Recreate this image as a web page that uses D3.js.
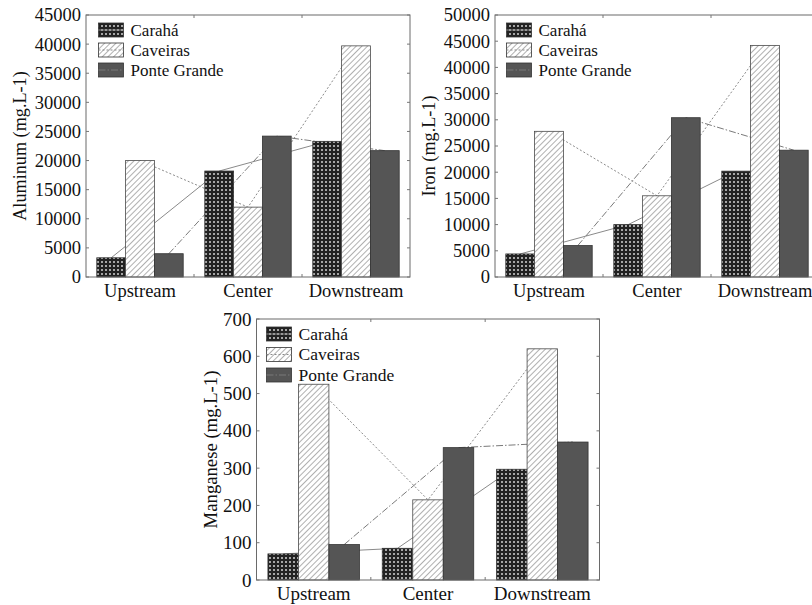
<!DOCTYPE html>
<html>
<head>
<meta charset="utf-8">
<script src="https://cdn.jsdelivr.net/npm/d3@7"></script>
<style>
  html, body { margin: 0; padding: 0; background: #fff; }
  svg { display: block; }
  text { font-family: "Liberation Serif", "Times New Roman", serif; fill: #111; }
</style>
</head>
<body>
<svg id="chart" width="812" height="605"></svg>
<script>
const categories = ["Upstream", "Center", "Downstream"];
const seriesNames = ["Carahá", "Caveiras", "Ponte Grande"];

const aluminumCaraha = [3300, 18200, 23300];
const aluminumCaveiras = [20000, 12000, 39700];
const aluminumPonte = [4000, 24200, 21700];

const ironCaraha = [4400, 10000, 20200];
const ironCaveiras = [27800, 15500, 44200];
const ironPonte = [6000, 30400, 24200];

const manganeseCaraha = [70, 85, 297];
const manganeseCaveiras = [525, 215, 620];
const manganesePonte = [95, 355, 370];

const aluminumTicks = [0, 5000, 10000, 15000, 20000, 25000, 30000, 35000, 40000, 45000];
const ironTicks = [0, 5000, 10000, 15000, 20000, 25000, 30000, 35000, 40000, 45000, 50000];
const manganeseTicks = [0, 100, 200, 300, 400, 500, 600, 700];

const svg = d3.select("#chart");
const defs = svg.append("defs");

const dots = defs.append("pattern").attr("id", "dots")
  .attr("width", 4).attr("height", 4).attr("patternUnits", "userSpaceOnUse");
dots.append("rect").attr("width", 4).attr("height", 4).attr("fill", "#222");
dots.append("rect").attr("x", 1).attr("y", 1).attr("width", 2).attr("height", 2).attr("fill", "#a6a6a6");

const hatch = defs.append("pattern").attr("id", "hatch")
  .attr("width", 4).attr("height", 4).attr("patternUnits", "userSpaceOnUse")
  .attr("patternTransform", "rotate(45)");
hatch.append("rect").attr("width", 4).attr("height", 4).attr("fill", "#fff");
hatch.append("line").attr("x1", 0).attr("y1", 0).attr("x2", 0).attr("y2", 4)
  .attr("stroke", "#6e6e6e").attr("stroke-width", 1.1);

const fills = ["url(#dots)", "url(#hatch)", "#555555"];
const lineStyles = [
  { dash: null, color: "#8a8a8a" },
  { dash: "2,2", color: "#8a8a8a" },
  { dash: "7,2,1.5,2", color: "#7a7a7a" }
];

function drawChart(cfg) {
  const g = svg.append("g");
  const x = d3.scaleBand().domain(categories).range([cfg.left, cfg.right])
    .paddingInner(0.2).paddingOuter(0.1);
  const xs = d3.scaleBand().domain(seriesNames).range([0, x.bandwidth()]);
  const y = d3.scaleLinear().domain([0, cfg.max]).range([cfg.bottom, cfg.top]);
  const series = [cfg.caraha, cfg.caveiras, cfg.ponte];

  // connecting lines (behind bars)
  series.forEach((vals, si) => {
    const line = d3.line()
      .x((d, i) => x(categories[i]) + xs(seriesNames[si]) + xs.bandwidth() / 2)
      .y(d => y(d));
    g.append("path").datum(vals)
      .attr("d", line)
      .attr("fill", "none")
      .attr("stroke", lineStyles[si].color)
      .attr("stroke-width", 1)
      .attr("stroke-dasharray", lineStyles[si].dash);
  });

  // bars
  categories.forEach((c, ci) => {
    series.forEach((vals, si) => {
      g.append("rect")
        .attr("x", x(c) + xs(seriesNames[si]))
        .attr("y", y(vals[ci]))
        .attr("width", xs.bandwidth())
        .attr("height", y(0) - y(vals[ci]))
        .attr("fill", fills[si])
        .attr("stroke", si === 1 ? "#4a4a4a" : "#333")
        .attr("stroke-width", 0.8);
    });
  });

  // frame
  g.append("rect")
    .attr("x", cfg.left).attr("y", cfg.top)
    .attr("width", cfg.right - cfg.left).attr("height", cfg.bottom - cfg.top)
    .attr("fill", "none").attr("stroke", "#6a6a6a").attr("stroke-width", 1);

  // inner ticks on y (left & right)
  cfg.ticks.forEach(t => {
    g.append("line").attr("x1", cfg.left).attr("x2", cfg.left + 3)
      .attr("y1", y(t)).attr("y2", y(t)).attr("stroke", "#777");
    g.append("line").attr("x1", cfg.right).attr("x2", cfg.right - 3)
      .attr("y1", y(t)).attr("y2", y(t)).attr("stroke", "#777");
  });
  // ticks between categories (top & bottom)
  [1, 2].forEach(i => {
    const bx = x(categories[i]) - x.step() * x.paddingInner() / 2;
    g.append("line").attr("x1", bx).attr("x2", bx)
      .attr("y1", cfg.bottom).attr("y2", cfg.bottom - 3).attr("stroke", "#777");
    g.append("line").attr("x1", bx).attr("x2", bx)
      .attr("y1", cfg.top).attr("y2", cfg.top + 3).attr("stroke", "#777");
  });

  // y tick labels
  const yAxis = d3.axisLeft(y).tickValues(cfg.ticks).tickSize(0).tickPadding(5)
    .tickFormat(d3.format("d"));
  const ya = g.append("g").attr("transform", `translate(${cfg.left},0)`).call(yAxis);
  ya.select(".domain").remove();
  ya.selectAll("text").style("font-family", "Liberation Serif, serif")
    .style("font-size", cfg.fontSize + "px").attr("fill", "#111");

  // category labels
  const xAxis = d3.axisBottom(x).tickSize(0).tickPadding(7);
  const xa = g.append("g").attr("transform", `translate(0,${cfg.bottom})`).call(xAxis);
  xa.select(".domain").remove();
  xa.selectAll("text").style("font-family", "Liberation Serif, serif")
    .style("font-size", cfg.fontSize + "px").attr("fill", "#111");

  // y title
  g.append("text")
    .attr("transform", `translate(${cfg.titleX},${(cfg.top + cfg.bottom) / 2}) rotate(-90)`)
    .attr("text-anchor", "middle").attr("dy", "0.35em")
    .style("font-size", (cfg.fontSize - 0.3) + "px")
    .text(cfg.title);

  // legend
  seriesNames.forEach((name, si) => {
    const ly = cfg.top + cfg.legendTop + si * cfg.legendStep;
    const lx = cfg.left + cfg.legendLeft;
    g.append("rect").attr("x", lx).attr("y", ly - 7)
      .attr("width", 25).attr("height", 14)
      .attr("fill", fills[si]).attr("stroke", "#333").attr("stroke-width", 0.8);
    g.append("line").attr("x1", lx).attr("x2", lx + 25).attr("y1", ly).attr("y2", ly)
      .attr("stroke", lineStyles[si].color).attr("stroke-dasharray", lineStyles[si].dash);
    g.append("text").attr("x", lx + 32).attr("y", ly).attr("dy", "0.33em")
      .style("font-size", cfg.legendFont + "px").text(name);
  });
}

drawChart({
  left: 86, right: 410, top: 15, bottom: 277, max: 45000, ticks: aluminumTicks,
  caraha: aluminumCaraha, caveiras: aluminumCaveiras, ponte: aluminumPonte,
  title: "Aluminum (mg.L-1)", titleX: 20, fontSize: 18.5,
  legendTop: 15, legendStep: 20, legendLeft: 12.5, legendFont: 17
});

drawChart({
  left: 495, right: 819, top: 15, bottom: 277, max: 50000, ticks: ironTicks,
  caraha: ironCaraha, caveiras: ironCaveiras, ponte: ironPonte,
  title: "Iron (mg.L-1)", titleX: 429, fontSize: 18.5,
  legendTop: 15, legendStep: 20, legendLeft: 11.5, legendFont: 17
});

drawChart({
  left: 256.5, right: 599.5, top: 319, bottom: 580, max: 700, ticks: manganeseTicks,
  caraha: manganeseCaraha, caveiras: manganeseCaveiras, ponte: manganesePonte,
  title: "Manganese (mg.L-1)", titleX: 210, fontSize: 19,
  legendTop: 15, legendStep: 20.5, legendLeft: 10, legendFont: 17.5
});
</script>
</body>
</html>
